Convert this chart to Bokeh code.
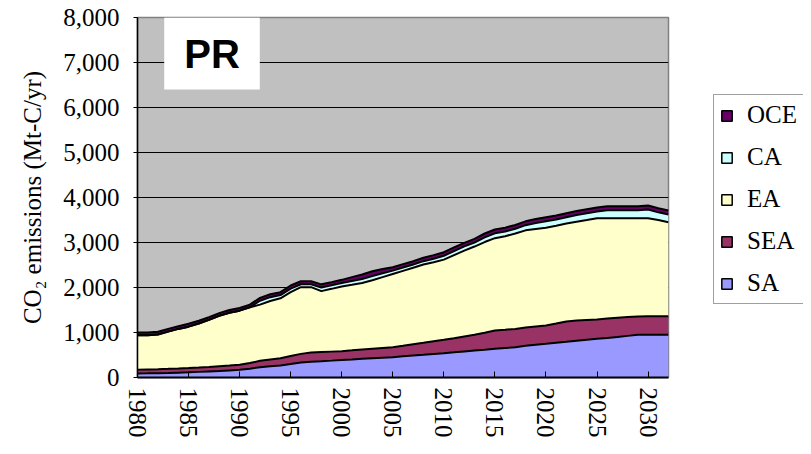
from bokeh.plotting import figure
from bokeh.layouts import row
from bokeh.models import (Range1d, NumeralTickFormatter, FixedTicker, Legend,
                          LegendItem, Label, ColumnDataSource)
from bokeh.embed import file_html
from bokeh.resources import INLINE

years = list(range(1980, 2033))
SA = [90, 92, 95, 100, 108, 115, 125, 135, 145, 158, 170, 195, 230, 250, 265, 300, 335, 350, 362, 375,
      390, 402, 415, 428, 440, 452, 470, 488, 505, 523, 541, 560, 580, 600, 618, 637, 655, 672, 705, 728,
      748, 770, 792, 815, 838, 859, 880, 902, 925, 948, 950, 950, 950]
SEA = [85, 88, 90, 92, 92, 95, 97, 100, 105, 107, 115, 125, 140, 150, 165, 180, 190, 205, 203, 200,
       195, 201, 207, 212, 217, 222, 235, 250, 265, 282, 296, 310, 330, 350, 377, 407, 405, 408, 405, 407,
       408, 430, 453, 450, 442, 431, 430, 428, 420, 408, 410, 410, 410]
EA = [765, 760, 770, 828, 880, 920, 978, 1045, 1120, 1175, 1200, 1240, 1250, 1300, 1330, 1416, 1482, 1452, 1354, 1395,
      1437, 1457, 1478, 1520, 1573, 1626, 1665, 1702, 1740, 1755, 1783, 1850, 1910, 1960, 2015, 2052, 2080, 2120, 2160, 2165,
      2170, 2170, 2175, 2195, 2220, 2251, 2231, 2211, 2196, 2185, 2181, 2140, 2092]
CA = [0, 0, 0, 0, 0, 0, 0, 0, 0, 0, 0, 0, 85, 85, 71, 80, 66, 66, 81, 79,
      76, 85, 90, 95, 85, 75, 75, 70, 75, 80, 85, 90, 93, 90, 105, 108, 105, 105, 115, 132,
      147, 140, 140, 150, 150, 149, 176, 176, 176, 176, 191, 170, 169]
OCE = [60, 60, 60, 60, 60, 63, 60, 60, 60, 60, 60, 60, 65, 65, 65, 68, 68, 68, 70, 70,
       72, 85, 100, 105, 95, 75, 75, 75, 75, 80, 80, 80, 80, 80, 85, 85, 85, 85, 85, 88,
       90, 90, 90, 90, 90, 90, 90, 90, 90, 90, 90, 90, 90]

series = ["SA", "SEA", "EA", "CA", "OCE"]
colors = ["#9999FF", "#993366", "#FFFFCC", "#CCFFFF", "#660066"]
x_ticks = [1980, 1985, 1990, 1995, 2000, 2005, 2010, 2015, 2020, 2025, 2030]
y_ticks = [0, 1000, 2000, 3000, 4000, 5000, 6000, 7000, 8000]

src = ColumnDataSource(dict(year=years, SA=SA, SEA=SEA, EA=EA, CA=CA, OCE=OCE))

FONT = "Liberation Serif"
FS = "25px"

p = figure(width=678, height=446, output_backend="svg", toolbar_location=None,
           x_range=Range1d(1980, 2032), y_range=Range1d(0, 8000),
           min_border_left=137, min_border_right=10, min_border_top=17, min_border_bottom=69)
p.background_fill_color = "#C0C0C0"
p.border_fill_color = "white"
p.outline_line_color = "#808080"
p.outline_line_width = 1.5

p.varea_stack(stackers=series, x="year", color=colors, source=src)
p.vline_stack(stackers=series, x="year", color="black", line_width=2, source=src)

# axes
p.xaxis.ticker = FixedTicker(ticks=x_ticks)
p.xaxis.major_label_orientation = "vertical"
p.xaxis.major_label_text_font = FONT
p.xaxis.major_label_text_font_size = FS
p.xaxis.major_label_text_color = "black"
p.xaxis.major_label_standoff = 10
p.xaxis.major_tick_in = 6
p.xaxis.major_tick_out = 0
p.xaxis.minor_tick_line_color = None
p.xaxis.axis_line_width = 2
p.xaxis.axis_line_color = "black"
p.xaxis.major_tick_line_color = "black"

p.yaxis.ticker = FixedTicker(ticks=y_ticks)
p.yaxis.formatter = NumeralTickFormatter(format="0,0")
p.yaxis.major_label_text_font = FONT
p.yaxis.major_label_text_font_size = FS
p.yaxis.major_label_text_color = "black"
p.yaxis.major_label_standoff = 14
p.yaxis.major_tick_in = 0
p.yaxis.major_tick_out = 4
p.yaxis.minor_tick_line_color = None
p.yaxis.axis_line_width = 1.5
p.yaxis.axis_line_color = "black"
p.yaxis.axis_label = "CO₂ emissions (Mt-C/yr)"
p.yaxis.axis_label_text_font = FONT
p.yaxis.axis_label_text_font_size = FS
p.yaxis.axis_label_text_font_style = "normal"
p.yaxis.axis_label_text_color = "black"
p.yaxis.axis_label_standoff = 14

p.xgrid.visible = False
p.ygrid.grid_line_color = "black"
p.ygrid.grid_line_width = 1

pr = Label(x=74.5, y=324, x_units="screen", y_units="screen", text="PR",
           text_font="Liberation Sans", text_font_style="bold", text_font_size="40px",
           text_color="black", text_align="center", text_baseline="middle",
           background_fill_color="white", padding=(20, 14))
p.add_layout(pr)

# legend panel (separate figure to the right)
lg = figure(width=125, height=446, output_backend="svg", toolbar_location=None,
            x_range=Range1d(0, 1), y_range=Range1d(0, 1),
            x_axis_location=None, y_axis_location=None,
            min_border_left=0, min_border_right=0, min_border_top=0, min_border_bottom=0)
lg.outline_line_color = None
lg.background_fill_color = "white"
lg.border_fill_color = "white"
lg.grid.visible = False

rends = {}
for s, c in zip(series, colors):
    rends[s] = lg.quad(left=[5], right=[6], bottom=[5], top=[6], fill_color=c,
                       line_color="black", line_width=1.5)
items = [LegendItem(label=s, renderers=[rends[s]]) for s in ["OCE", "CA", "EA", "SEA", "SA"]]
legend = Legend(items=items, location=(35, 73))
legend.label_text_font = FONT
legend.label_text_font_size = FS
legend.label_text_color = "black"
legend.glyph_width = 13
legend.glyph_height = 13
legend.label_height = 22
legend.spacing = 14
legend.padding = 6
legend.margin = 0
legend.label_standoff = 14
legend.border_line_color = "#404040"
legend.border_line_width = 1
legend.background_fill_color = "white"
legend.background_fill_alpha = 1
lg.add_layout(legend, "center")

layout = row(p, lg)
open("out.html", "w").write(file_html(layout, INLINE))
